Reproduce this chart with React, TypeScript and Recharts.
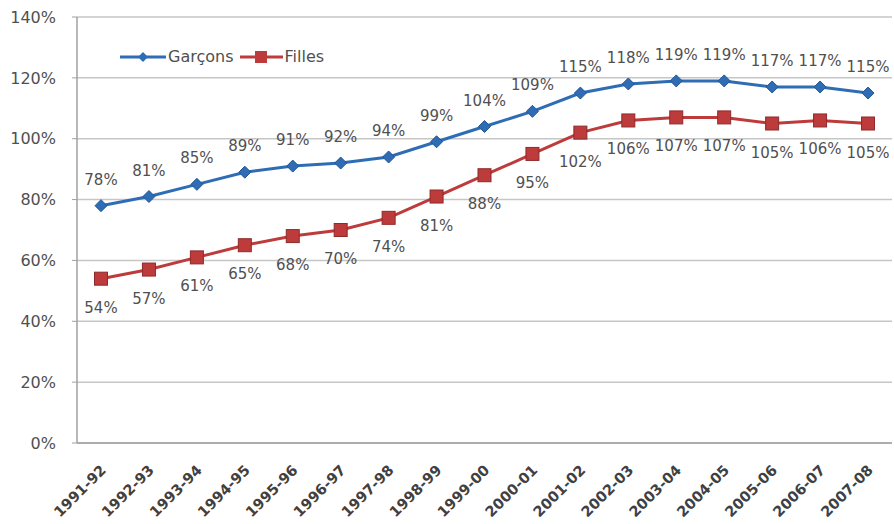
import React from 'react';
import { LineChart, Line, XAxis, YAxis, CartesianGrid, Legend, LabelList } from 'recharts';

const years = [
  '1991-92', '1992-93', '1993-94', '1994-95', '1995-96', '1996-97', '1997-98', '1998-99', '1999-00',
  '2000-01', '2001-02', '2002-03', '2003-04', '2004-05', '2005-06', '2006-07', '2007-08',
];
const garcons = [78, 81, 85, 89, 91, 92, 94, 99, 104, 109, 115, 118, 119, 119, 117, 117, 115];
const filles = [54, 57, 61, 65, 68, 70, 74, 81, 88, 95, 102, 106, 107, 107, 105, 106, 105];
const yTicks = [0, 20, 40, 60, 80, 100, 120, 140];

const BLUE = '#2E6DB5';
const RED = '#BE3B3B';
const TEXT = '#505050';
const FONT = '"DejaVu Sans", sans-serif';

const data = years.map((y, i) => ({ year: y, garcons: garcons[i], filles: filles[i] }));

const XTick = (props: any) => {
  const { x, y, payload } = props;
  const ax = x + 6;
  const ay = y + 28;
  return (
    <text x={ax} y={ay} transform={`rotate(-45, ${ax}, ${ay})`} textAnchor="end"
      fontSize={14.5} fontWeight="bold" fill="#404040" fontFamily={FONT}>
      {payload.value}
    </text>
  );
};

const Diamond = (props: any) => {
  const { cx, cy } = props;
  if (cx == null || cy == null) return null;
  const r = 6;
  return <polygon points={`${cx},${cy - r} ${cx + r},${cy} ${cx},${cy + r} ${cx - r},${cy}`} fill={BLUE} stroke="#24558F" strokeWidth={1} />;
};

const Square = (props: any) => {
  const { cx, cy } = props;
  if (cx == null || cy == null) return null;
  const s = 13;
  return <rect x={cx - s / 2} y={cy - s / 2} width={s} height={s} fill={RED} stroke="#8E2A2A" strokeWidth={1} />;
};

const topLabel = (props: any) => {
  const { x, y, value } = props;
  return (
    <text x={x} y={y - 21} textAnchor="middle" fontSize={15} fill={TEXT} fontFamily={FONT}>
      {value}%
    </text>
  );
};

const bottomLabel = (props: any) => {
  const { x, y, value } = props;
  return (
    <text x={x} y={y + 34} textAnchor="middle" fontSize={15} fill={TEXT} fontFamily={FONT}>
      {value}%
    </text>
  );
};

const renderLegend = () => (
  <div style={{ display: 'flex', alignItems: 'center', fontFamily: FONT, fontSize: 16, color: TEXT }}>
    <svg width={48} height={14}>
      <line x1={0} y1={7} x2={46} y2={7} stroke={BLUE} strokeWidth={3} />
      <polygon points="23,2 28,7 23,12 18,7" fill={BLUE} />
    </svg>
    <span style={{ marginRight: 6 }}>Garçons</span>
    <svg width={45} height={14}>
      <line x1={0} y1={7} x2={43} y2={7} stroke={RED} strokeWidth={3} />
      <rect x={15} y={1} width={12} height={12} fill={RED} />
    </svg>
    <span>Filles</span>
  </div>
);

export default function App() {
  return (
    <div style={{ position: 'fixed', left: 0, top: 0, background: '#fff' }}>
      <LineChart width={894} height={524} data={data} margin={{ top: 17, right: 2, left: 0, bottom: 0 }}>
        <CartesianGrid vertical={false} stroke="#C6C6C6" strokeWidth={1.5} />
        <XAxis dataKey="year" height={81} interval={0} tick={<XTick />} tickSize={0} tickMargin={0}
          padding={{ left: 24, right: 24 }}
          axisLine={{ stroke: '#A0A0A0', strokeWidth: 1.5 }} tickLine={false} />
        <YAxis width={77} domain={[0, 140]} ticks={yTicks} tickFormatter={(v) => `${v}%`}
          tickSize={5} tickMargin={16} tick={{ fontSize: 16, fill: TEXT, fontFamily: FONT }}
          axisLine={{ stroke: '#A0A0A0', strokeWidth: 1.5 }} tickLine={{ stroke: '#A0A0A0' }} />
        <Legend content={renderLegend} verticalAlign="middle" layout="horizontal"
          wrapperStyle={{ top: 47, left: 120, width: 'auto' }} />
        <Line type="linear" dataKey="garcons" name="Garçons" stroke={BLUE} strokeWidth={3}
          dot={<Diamond />} activeDot={false} isAnimationActive={false}>
          <LabelList dataKey="garcons" content={topLabel} />
        </Line>
        <Line type="linear" dataKey="filles" name="Filles" stroke={RED} strokeWidth={3}
          dot={<Square />} activeDot={false} isAnimationActive={false}>
          <LabelList dataKey="filles" content={bottomLabel} />
        </Line>
      </LineChart>
    </div>
  );
}
